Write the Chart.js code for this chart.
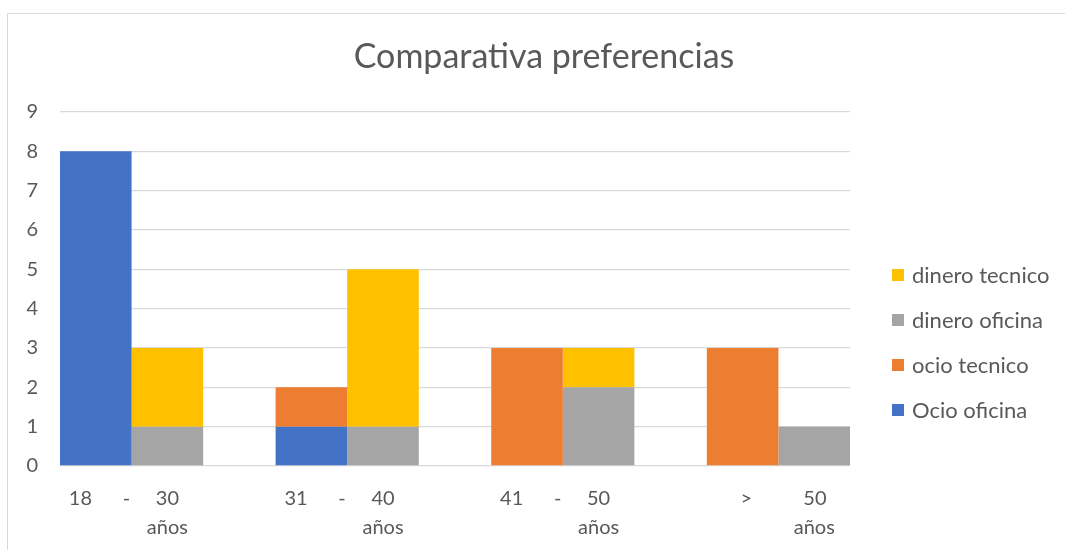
<!DOCTYPE html>
<html>
<head>
<meta charset="utf-8">
<script src="https://cdn.jsdelivr.net/npm/chart.js@4"></script>
<style>
    body { margin: 0; background: #fff; }
    .frame {
        position: absolute; left: 7px; top: 13px; width: 1100px; height: 600px;
        border: 1px solid #d9d9d9; box-sizing: border-box;
    }
    .chart-box { position: absolute; left: 0; top: 0; width: 1065px; height: 550px; }
    .legend {
        position: absolute; left: 892px; top: 262px;
        font-family: Lato, sans-serif; font-size: 22px; color: #595959;
    }
    .legend div { height: 45px; display: flex; align-items: flex-start; line-height: 26px; }
    .legend span.box { width: 12px; height: 12px; margin: 7px 8px 0 0; display: inline-block; }
</style>
</head>
<body>
<div class="frame"></div>
<div class="chart-box"><canvas id="myChart" width="1065" height="550"></canvas></div>
<div class="legend" id="legend"></div>
<script>
// datos
const categorias = ['18 - 30 años', '31 - 40 años', '41 - 50 años', '> 50 años'];
const etiquetasEje = [
    ['18      -     30   ', '              años'],
    ['31      -     40   ', '              años'],
    ['41      -     50   ', '              años'],
    ['  >          50', '              años']
];
const ocioOficina = [8, 1, 0, 0];
const ocioTecnico = [0, 1, 3, 3];
const dineroOficina = [1, 1, 2, 1];
const dineroTecnico = [2, 4, 1, 0];

const puntos = arr => arr.map((v, i) => ({ x: i, y: v }));

const ctx = document.getElementById('myChart').getContext('2d');
const myChart = new Chart(ctx, {
    type: 'bar',
    data: {
        datasets: [
            { label: 'Ocio oficina', data: puntos(ocioOficina), backgroundColor: '#4472C4', stack: 'ocio' },
            { label: 'ocio tecnico', data: puntos(ocioTecnico), backgroundColor: '#ED7D31', stack: 'ocio' },
            { label: 'dinero oficina', data: puntos(dineroOficina), backgroundColor: '#A5A5A5', stack: 'dinero' },
            { label: 'dinero tecnico', data: puntos(dineroTecnico), backgroundColor: '#FFC000', stack: 'dinero' }
        ]
    },
    options: {
        responsive: false,
        animation: false,
        categoryPercentage: 0.664,
        barPercentage: 1,
        layout: { padding: { left: 23, right: 0, top: 0, bottom: 0 } },
        plugins: {
            legend: { display: false },
            tooltip: { enabled: false },
            title: {
                display: true,
                text: 'Comparativa preferencias',
                color: '#595959',
                font: { family: 'Lato', size: 34, weight: 'normal', lineHeight: 1.2 },
                padding: { top: 37, bottom: 34 }
            }
        },
        scales: {
            x: {
                type: 'linear',
                stacked: true,
                offset: false,
                min: -0.332,
                max: 3.332,
                grid: { display: false, offset: false },
                border: { display: false },
                afterBuildTicks: s => { s.ticks = categorias.map((c, i) => ({ value: i })); },
                afterFit: s => { s.height = 84; },
                ticks: {
                    color: '#595959',
                    padding: 10,
                    maxRotation: 0,
                    autoSkip: false,
                    font: { family: 'Lato', size: 20, lineHeight: 1.45 },
                    callback: (v) => etiquetasEje[v]
                }
            },
            y: {
                stacked: true,
                min: 0,
                max: 9,
                border: { display: false },
                grid: { color: '#D9D9D9', lineWidth: 1.3, drawTicks: false },
                afterFit: s => { s.width = 37; },
                ticks: {
                    stepSize: 1,
                    color: '#595959',
                    padding: 22,
                    font: { family: 'Lato', size: 20 }
                }
            },
            // espacio reservado para la leyenda
            hueco: {
                position: 'right',
                display: true,
                grid: { display: false },
                border: { display: false },
                ticks: { display: false },
                afterFit: s => { s.width = 215; }
            }
        }
    }
});

// leyenda (orden inverso como en Excel)
const legendEl = document.getElementById('legend');
myChart.data.datasets.slice().reverse().forEach(ds => {
    const row = document.createElement('div');
    row.innerHTML = '<span class="box" style="background:' + ds.backgroundColor + '"></span>' + ds.label;
    legendEl.appendChild(row);
});
</script>
</body>
</html>
